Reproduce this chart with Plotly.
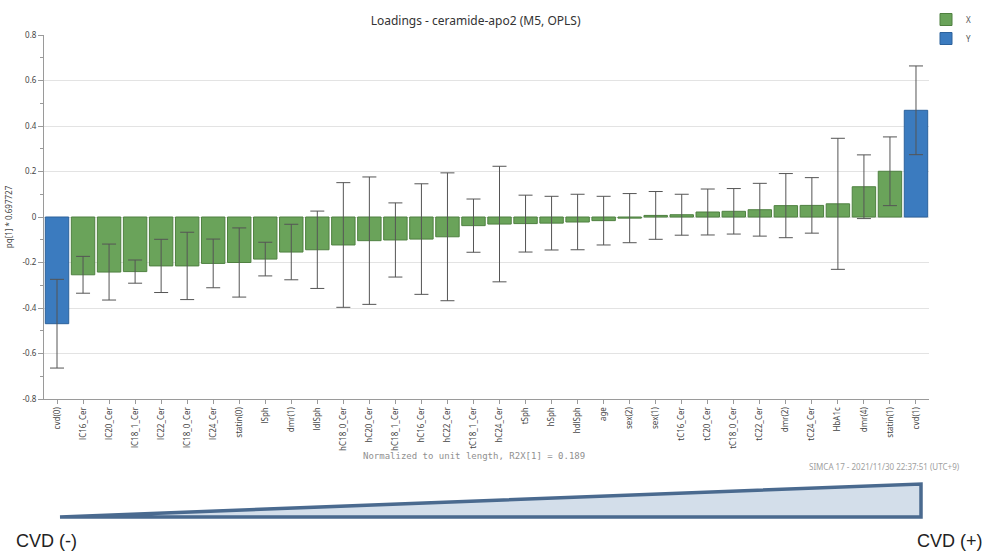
import plotly.graph_objects as go

# Loading values (pq[1] scaled) and jack-knifed confidence half-widths
categories = [
    "cvd(0)", "lC16_Cer", "lC20_Cer", "lC18_1_Cer", "lC22_Cer", "lC18_0_Cer",
    "lC24_Cer", "statin(0)", "lSph", "dmr(1)", "ldlSph", "hC18_0_Cer",
    "hC20_Cer", "hC18_1_Cer", "hC16_Cer", "hC22_Cer", "tC18_1_Cer", "hC24_Cer",
    "tSph", "hSph", "hdlSph", "age", "sex(2)", "sex(1)", "tC16_Cer",
    "tC20_Cer", "tC18_0_Cer", "tC22_Cer", "dmr(2)", "tC24_Cer", "HbA1c",
    "dmr(4)", "statin(1)", "cvd(1)",
]
loadings = [
    -0.469, -0.254, -0.242, -0.240, -0.215, -0.215,
    -0.204, -0.200, -0.185, -0.154, -0.144, -0.123,
    -0.104, -0.101, -0.097, -0.087, -0.038, -0.031,
    -0.029, -0.027, -0.022, -0.016, -0.005, 0.007, 0.010,
    0.022, 0.025, 0.032, 0.050, 0.051, 0.058,
    0.133, 0.201, 0.469,
]
conf_int = [
    0.195, 0.081, 0.123, 0.051, 0.117, 0.148,
    0.107, 0.152, 0.074, 0.122, 0.170, 0.274,
    0.280, 0.163, 0.243, 0.281, 0.117, 0.254,
    0.125, 0.118, 0.122, 0.107, 0.108, 0.105, 0.090,
    0.101, 0.100, 0.116, 0.141, 0.122, 0.288,
    0.140, 0.151, 0.195,
]
y_vars = {"cvd(0)", "cvd(1)"}

y_ticks = [0.8, 0.6, 0.4, 0.2, 0, -0.2, -0.4, -0.6, -0.8]
y_tick_text = ["0.8", "0.6", "0.4", "0.2", "0", "-0.2", "-0.4", "-0.6", "-0.8"]

GREEN, GREEN_EDGE = "#6aa35a", "#4f8040"
BLUE, BLUE_EDGE = "#3b7bbf", "#2c629c"
FONT = "Noto Sans"


def subset(is_y):
    idx = [i for i, c in enumerate(categories) if (c in y_vars) == is_y]
    return ([categories[i] for i in idx], [loadings[i] for i in idx],
            [conf_int[i] for i in idx])


fig = go.Figure()
for name, is_y, fill, edge in [("X", False, GREEN, GREEN_EDGE),
                               ("Y", True, BLUE, BLUE_EDGE)]:
    xs, ys, es = subset(is_y)
    fig.add_trace(go.Bar(
        x=xs, y=ys, name=name,
        marker=dict(color=fill, line=dict(color=edge, width=1)),
        error_y=dict(type="data", array=es, visible=True,
                     color="#555555", thickness=1, width=7),
    ))

# plot area in pixels
L, R, T, B = 44, 929, 35, 399
W, H = 988, 553


def px(x):
    return (x - L) / (R - L)


def py(y):
    return (B - y) / (B - T)


fig.update_layout(
    width=W, height=H,
    margin=dict(l=L, r=W - R, t=T, b=H - B, pad=0, autoexpand=False),
    paper_bgcolor="white", plot_bgcolor="white",
    barmode="overlay", bargap=0.1,
    font=dict(family=FONT, color="#444444", size=9),
    title=dict(text="Loadings - ceramide-apo2 (M5, OPLS)",
               x=px(470), xanchor="center", y=1 - 21 / H, yanchor="middle",
               font=dict(family=FONT, size=12, color="#333333")),
    legend=dict(x=px(926), y=py(5), xanchor="left", yanchor="top",
                font=dict(size=8, color="#555555"), itemwidth=30,
                tracegroupgap=0, bgcolor="rgba(0,0,0,0)"),
    showlegend=True,
)

fig.update_xaxes(
    type="category", categoryorder="array", categoryarray=categories,
    tickangle=-90, tickfont=dict(size=8, color="#444444"),
    showline=True, linecolor="#9a9a9a", linewidth=1,
    ticks="outside", ticklen=4, tickcolor="#9a9a9a",
    showgrid=False, zeroline=False, automargin=False,
)
fig.update_yaxes(
    range=[-0.8, 0.8], tickvals=y_ticks, ticktext=y_tick_text,
    tickfont=dict(size=8, color="#444444"),
    showline=True, linecolor="#9a9a9a", linewidth=1,
    ticks="outside", ticklen=5, tickcolor="#9a9a9a",
    minor=dict(dtick=0.1, ticks="outside", ticklen=3, tickcolor="#9a9a9a",
               showgrid=False),
    showgrid=True, gridcolor="#e3e3e3", gridwidth=1,
    zeroline=True, zerolinecolor="#e3e3e3", zerolinewidth=1,
    automargin=False,
    title=dict(text="pq[1] * 0.697727", font=dict(size=8, color="#444444"),
               standoff=8),
)

# footer notes
fig.add_annotation(text="Normalized to unit length, R2X[1] = 0.189",
                   xref="paper", yref="paper", x=px(474), y=py(456),
                   showarrow=False, xanchor="center", yanchor="middle",
                   font=dict(family="DejaVu Sans Mono", size=9, color="#8f8f8f"))
fig.add_annotation(text="SIMCA 17 - 2021/11/30 22:37:51 (UTC+9)",
                   xref="paper", yref="paper", x=px(962), y=py(466),
                   showarrow=False, xanchor="right", yanchor="middle",
                   font=dict(family=FONT, size=8, color="#a0a0a0"))

# CVD gradient wedge below the chart
fig.add_shape(type="path",
              path=f"M {px(60)} {py(517)} L {px(921)} {py(484)} "
                   f"L {px(921)} {py(517)} Z",
              xref="paper", yref="paper",
              fillcolor="#d3deea", line=dict(color="#4a6a8f", width=3.5))
fig.add_annotation(text="CVD (-)", xref="paper", yref="paper",
                   x=px(14), y=py(541), showarrow=False,
                   xanchor="left", yanchor="middle",
                   font=dict(family="Liberation Sans", size=18, color="#222222"))
fig.add_annotation(text="CVD (+)", xref="paper", yref="paper",
                   x=px(985), y=py(541), showarrow=False,
                   xanchor="right", yanchor="middle",
                   font=dict(family="Liberation Sans", size=18, color="#222222"))

fig.write_html("out.html")
